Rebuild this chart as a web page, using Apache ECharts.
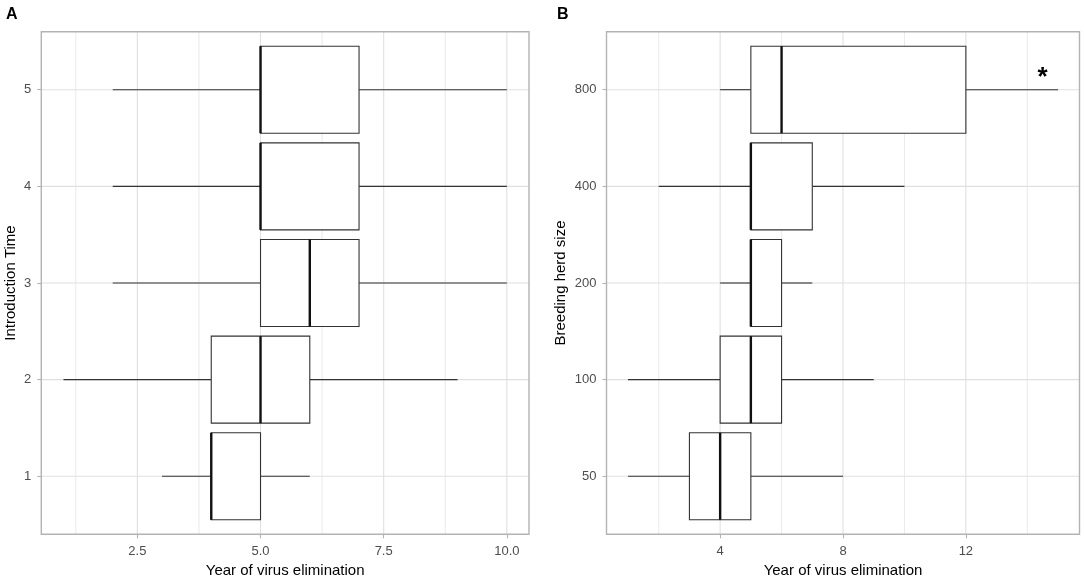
<!DOCTYPE html>
<html>
<head>
<meta charset="utf-8">
<script src="https://cdn.jsdelivr.net/npm/echarts@6/dist/echarts.min.js"></script>
<style>
  html, body { margin: 0; padding: 0; background: #fff; }
  #chart { width: 1084px; height: 579px; }
</style>
</head>
<body>
<div id="chart"></div>
<script>
// panel A: introduction time
const introTimes = ['1', '2', '3', '4', '5']
// [min, q1, median, q3, max]
const elimByIntro = [
  [3, 4, 4, 5, 6],
  [1, 4, 5, 6, 9],
  [2, 5, 6, 7, 10],
  [2, 5, 5, 7, 10],
  [2, 5, 5, 7, 10]
]
// panel B: breeding herd size
const herdSizes = ['50', '100', '200', '400', '800']
const elimByHerd = [
  [1, 3, 4, 5, 8],
  [1, 4, 5, 6, 9],
  [4, 5, 5, 6, 7],
  [2, 5, 5, 7, 10],
  [4, 5, 6, 12, 15]
]
// significance mark, [x, y]
const starB = [14.5, 5.12]

const majorA = [2.5, 5, 7.5, 10]
const minorA = [1.25, 3.75, 6.25, 8.75]
const majorB = [4, 8, 12]
const minorB = [2, 6, 10, 14]
const rangeA = [0.55, 10.45]
const rangeB = [0.3, 15.7]
const catRange = [0.4, 5.6]

const ink = '#333333'
const gridCol = '#E0E0E0'
const borderCol = '#B3B3B3'
const font = 'Liberation Sans, Arial, sans-serif'

// vertical grid lines
function vLines (idx, values, width) {
  return {
    type: 'custom',
    xAxisIndex: idx,
    yAxisIndex: idx,
    z: 1,
    silent: true,
    data: values.map(v => [v]),
    encode: { x: 0 },
    renderItem (params, api) {
      const a = api.coord([api.value(0), catRange[0]])
      const b = api.coord([api.value(0), catRange[1]])
      return { type: 'line', shape: { x1: a[0], y1: a[1], x2: b[0], y2: b[1] }, style: { stroke: gridCol, lineWidth: width } }
    }
  }
}
// horizontal grid lines at each category
function hLines (idx, xr) {
  return {
    type: 'custom',
    xAxisIndex: idx,
    yAxisIndex: idx,
    z: 1,
    silent: true,
    data: [1, 2, 3, 4, 5].map(v => [v]),
    encode: { y: 0 },
    renderItem (params, api) {
      const a = api.coord([xr[0], api.value(0)])
      const b = api.coord([xr[1], api.value(0)])
      return { type: 'line', shape: { x1: a[0], y1: a[1], x2: b[0], y2: b[1] }, style: { stroke: gridCol, lineWidth: 1.1 } }
    }
  }
}

function boxes (idx, stats) {
  return {
    type: 'custom',
    xAxisIndex: idx,
    yAxisIndex: idx,
    z: 3,
    data: stats.map((s, i) => [i + 1].concat(s)),
    encode: { y: 0, x: [1, 2, 3, 4, 5] },
    renderItem (params, api) {
      const y = api.value(0)
      const half = api.size([0, 0.9])[1] / 2
      const p = v => api.coord([v, y])
      const lo = p(api.value(1)); const q1 = p(api.value(2)); const md = p(api.value(3))
      const q3 = p(api.value(4)); const hi = p(api.value(5))
      const cy = lo[1]
      return {
        type: 'group',
        children: [
          { type: 'line', shape: { x1: lo[0], y1: cy, x2: q1[0], y2: cy }, style: { stroke: ink, lineWidth: 1.1 } },
          { type: 'line', shape: { x1: q3[0], y1: cy, x2: hi[0], y2: cy }, style: { stroke: ink, lineWidth: 1.1 } },
          { type: 'rect', shape: { x: q1[0], y: cy - half, width: q3[0] - q1[0], height: 2 * half }, style: { fill: '#fff', stroke: ink, lineWidth: 1.1 } },
          { type: 'line', shape: { x1: md[0], y1: cy - half, x2: md[0], y2: cy + half }, style: { stroke: '#111', lineWidth: 2.4 } }
        ]
      }
    }
  }
}

function xAxisOf (idx, range, major) {
  return {
    type: 'value',
    gridIndex: idx,
    min: range[0],
    max: range[1],
    name: 'Year of virus elimination',
    nameLocation: 'middle',
    nameGap: 29,
    nameTextStyle: { color: '#000', fontSize: 15, fontFamily: font },
    axisLine: { show: false },
    splitLine: { show: false },
    axisTick: { show: true, customValues: major, length: 4, lineStyle: { color: borderCol, width: 1.1 } },
    axisLabel: {
      customValues: major,
      margin: 11,
      color: '#4D4D4D',
      fontSize: 13,
      fontFamily: font,
      formatter: v => idx === 0 ? v.toFixed(1) : String(v)
    }
  }
}

function yAxisOf (idx, labels, title, gap) {
  return {
    type: 'value',
    gridIndex: idx,
    min: catRange[0],
    max: catRange[1],
    name: title,
    nameLocation: 'middle',
    nameGap: gap,
    nameTextStyle: { color: '#000', fontSize: 15, fontFamily: font },
    axisLine: { show: false },
    splitLine: { show: false },
    axisTick: { show: true, customValues: [1, 2, 3, 4, 5], length: 4, lineStyle: { color: borderCol, width: 1.1 } },
    axisLabel: {
      customValues: [1, 2, 3, 4, 5],
      margin: 10,
      color: '#4D4D4D',
      fontSize: 13,
      fontFamily: font,
      formatter: v => labels[Math.round(v) - 1]
    }
  }
}

const gridBase = { top: 31.7, height: 502.6, show: true, borderColor: borderCol, borderWidth: 1.4, backgroundColor: 'transparent', z: 4, containLabel: false, outerBoundsMode: 'none' }
const chart = echarts.init(document.getElementById('chart'), null, { renderer: 'canvas' })
chart.setOption({
  animation: false,
  backgroundColor: '#fff',
  grid: [
    Object.assign({ left: 41.3, width: 487.7 }, gridBase),
    Object.assign({ left: 606.5, width: 473 }, gridBase)
  ],
  xAxis: [xAxisOf(0, rangeA, majorA), xAxisOf(1, rangeB, majorB)],
  yAxis: [yAxisOf(0, introTimes, 'Introduction Time', 23), yAxisOf(1, herdSizes, 'Breeding herd size', 38)],
  graphic: [
    { type: 'text', left: 6, top: 7, style: { text: 'A', font: 'bold 16px ' + font, fill: '#000' } },
    { type: 'text', left: 557, top: 7, style: { text: 'B', font: 'bold 16px ' + font, fill: '#000' } }
  ],
  series: [
    vLines(0, minorA, 0.7), vLines(0, majorA, 1.1), hLines(0, rangeA), boxes(0, elimByIntro),
    vLines(1, minorB, 0.7), vLines(1, majorB, 1.1), hLines(1, rangeB), boxes(1, elimByHerd),
    {
      type: 'custom',
      xAxisIndex: 1,
      yAxisIndex: 1,
      z: 5,
      data: [starB],
      encode: { x: 0, y: 1 },
      renderItem (params, api) {
        const c = api.coord([api.value(0), api.value(1)])
        return { type: 'text', x: c[0], y: c[1], style: { text: '*', font: 'bold 26px ' + font, fill: '#000', align: 'center', verticalAlign: 'middle' } }
      }
    }
  ]
})
</script>
</body>
</html>
